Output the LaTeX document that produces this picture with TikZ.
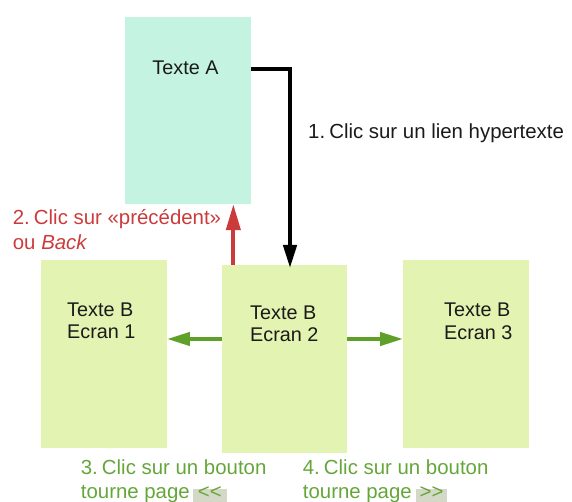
\documentclass[tikz,border=0pt]{standalone}
\usepackage{fontspec}
\setmainfont{Liberation Sans}
\usetikzlibrary{arrows.meta}
\definecolor{mint}{HTML}{C5F3E2}
\definecolor{pale}{HTML}{E3F3B1}
\definecolor{redc}{HTML}{CC3B3B}
\definecolor{greenc}{HTML}{5EA028}
\definecolor{greent}{HTML}{65A63A}
\definecolor{btn}{HTML}{D4D8C6}
\definecolor{ink}{HTML}{1A1A1A}
\newcommand{\nsp}{\hspace{0.2em}}
\begin{document}
\begin{tikzpicture}[x=1pt,y=-1pt,
  box/.style={rectangle, inner sep=0pt, draw=none},
  lbl/.style={inner sep=0pt, anchor=base west, font=\fontsize{20.4}{24}\selectfont},
  boxtxt/.style={inner sep=0pt, anchor=base west, text=ink, font=\fontsize{19.8}{24}\selectfont},
  conn/.style={line width=3.5pt},
]
\useasboundingbox (0,0) rectangle (572,502);
% boxes
\node[box, fill=mint, minimum width=125.7pt, minimum height=187.3pt] (A) at (188,110.3) {};
\node[box, fill=pale, minimum width=125.7pt, minimum height=187.7pt] (B1) at (103.85,353.85) {};
\node[box, fill=pale, minimum width=125.3pt, minimum height=187.7pt] (B2) at (284.35,358.85) {};
\node[box, fill=pale, minimum width=125.7pt, minimum height=187.7pt] (B3) at (466.15,353.85) {};
% box texts
\node[boxtxt, anchor=base] (tA) at (185.5,74.3) {Texte A};
\node[boxtxt] (t1a) at (67,316) {Texte B};
\node[boxtxt] (t1b) at (67,338) {Ecran 1};
\node[boxtxt] (t2a) at (250,319) {Texte B};
\node[boxtxt] (t2b) at (250,341) {Ecran 2};
\node[boxtxt] (t3a) at (444,316) {Texte B};
\node[boxtxt] (t3b) at (444,339) {Ecran 3};
% connectors
\draw[conn, black, -{Triangle[length=23pt,width=13.5pt]}] ([yshift=41.3pt]A.east) -| ([xshift=5.65pt,yshift=-3pt]B2.north);
\draw[conn, redc, line width=4pt, -{Triangle[length=26pt,width=14pt]}] ([xshift=-51pt]B2.north) -- ([xshift=-51pt]B2.north |- A.south);
\draw[conn, greenc, line width=4pt, -{Triangle[length=23pt,width=13pt]}] ([yshift=19.85pt]B2.west) -- ([yshift=19.85pt]B2.west -| B1.east);
\draw[conn, greenc, line width=4pt, -{Triangle[length=23pt,width=13pt]}] ([yshift=19.85pt]B2.east) -- ([yshift=19.85pt]B2.east -| B3.west);
% labels
\node[lbl, text=ink] (l1) at (308,138.3) {1.\nsp Clic sur un lien hypertexte};
\node[lbl, text=redc] (l2a) at (12.7,225) {2.\nsp Clic sur «précédent»};
\node[lbl, text=redc] (l2b) at (12.7,250) {ou \textit{Back}};
\node[lbl, text=greent] (l3a) at (80.7,474) {3.\nsp Clic sur un bouton};
\node[lbl, text=greent] (l3b) at (80.7,498.5) {tourne page};
\fill[btn] (193,488.5) rectangle (226.7,506);
\node[lbl, text=greent, anchor=base] (k3) at (209.85,498.5) {<\kern0pt<};
\node[lbl, text=greent] (l4a) at (302.7,474) {4.\nsp Clic sur un bouton};
\node[lbl, text=greent] (l4b) at (302.7,498.5) {tourne page};
\fill[btn] (416,488.5) rectangle (447,506);
\node[lbl, text=greent, anchor=base] (k4) at (431.5,498.5) {>\kern0pt>};
\end{tikzpicture}
\end{document}
